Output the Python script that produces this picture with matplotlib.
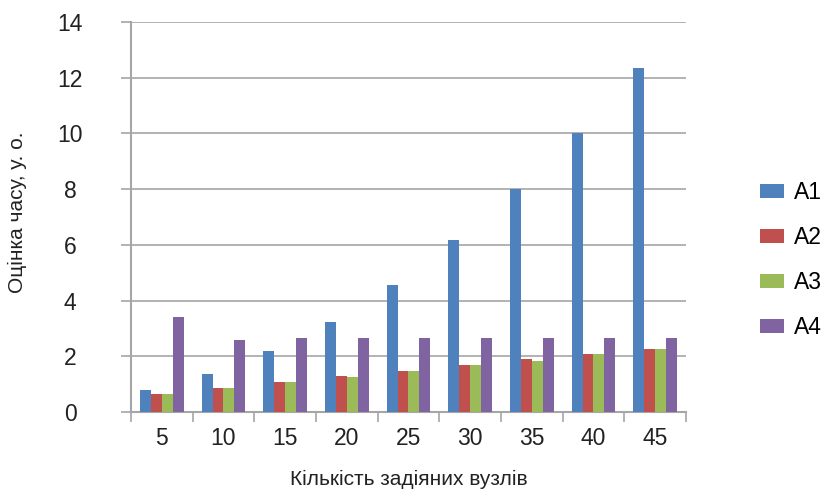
import matplotlib
matplotlib.use("Agg")
import matplotlib.pyplot as plt
import numpy as np

plt.rcParams['font.family'] = ['Liberation Sans', 'DejaVu Sans']

nodes = [5, 10, 15, 20, 25, 30, 35, 40, 45]
series_names = ['A1', 'A2', 'A3', 'A4']
a1 = [0.8, 1.37, 2.19, 3.24, 4.56, 6.17, 8.0, 10.0, 12.35]
a2 = [0.66, 0.87, 1.09, 1.29, 1.47, 1.69, 1.89, 2.07, 2.26]
a3 = [0.66, 0.87, 1.09, 1.25, 1.47, 1.69, 1.84, 2.07, 2.26]
a4 = [3.41, 2.6, 2.66, 2.66, 2.65, 2.65, 2.65, 2.65, 2.65]
colors = ['#4F81BD', '#C0504D', '#9BBB59', '#8064A2']

grey = '#A6A6A6'

fig = plt.figure(figsize=(8.27, 4.95), dpi=100)
ax = fig.add_axes([0.1584, 0.1677, 0.6711, 0.7879])

x = np.arange(len(nodes))
w = 0.178
for i, (vals, name, c) in enumerate(zip([a1, a2, a3, a4], series_names, colors)):
    ax.bar(x + (i - 1.5) * w, vals, width=w, color=c, label=name, zorder=3)

ax.set_xlim(-0.5, len(nodes) - 0.5)
ax.set_ylim(0, 14)
ax.set_yticks(np.arange(0, 15, 2))
ax.yaxis.grid(True, color=grey, linewidth=1.2, zorder=0)
ax.set_xticks(x)
ax.set_xticklabels([str(n) for n in nodes])
# category separators as minor ticks
ax.set_xticks(np.arange(-0.5, len(nodes), 1), minor=True)
ax.tick_params(axis='x', which='major', length=0, pad=11, labelsize=16.5, labelcolor='#222222')
ax.tick_params(axis='x', which='minor', length=7, width=1.2, color=grey, direction='out')
ax.tick_params(axis='y', length=7.2, width=1.2, color=grey, direction='out', pad=36.7,
               labelsize=16.5, labelcolor='#222222')
for lbl in ax.get_yticklabels():
    lbl.set_horizontalalignment('center')

for s in ['top', 'right']:
    ax.spines[s].set_visible(False)
for s in ['left', 'bottom']:
    ax.spines[s].set_color(grey)
    ax.spines[s].set_linewidth(1.5)

ax.set_ylabel('Оцінка часу, у. о.', fontsize=15, color='#222222')
ax.yaxis.set_label_coords(-0.187, 0.513)
ax.set_xlabel('Кількість задіяних вузлів', fontsize=15, color='#222222')
ax.xaxis.set_label_coords(0.5, -0.149)

fig.legend(loc='center left', bbox_to_anchor=(0.919, 0.4747), frameon=False, fontsize=16.5,
           handlelength=1.05, handleheight=0.57, labelspacing=0.95, handletextpad=0.44,
           borderpad=0, borderaxespad=0)

fig.savefig('out.png', dpi=100)
